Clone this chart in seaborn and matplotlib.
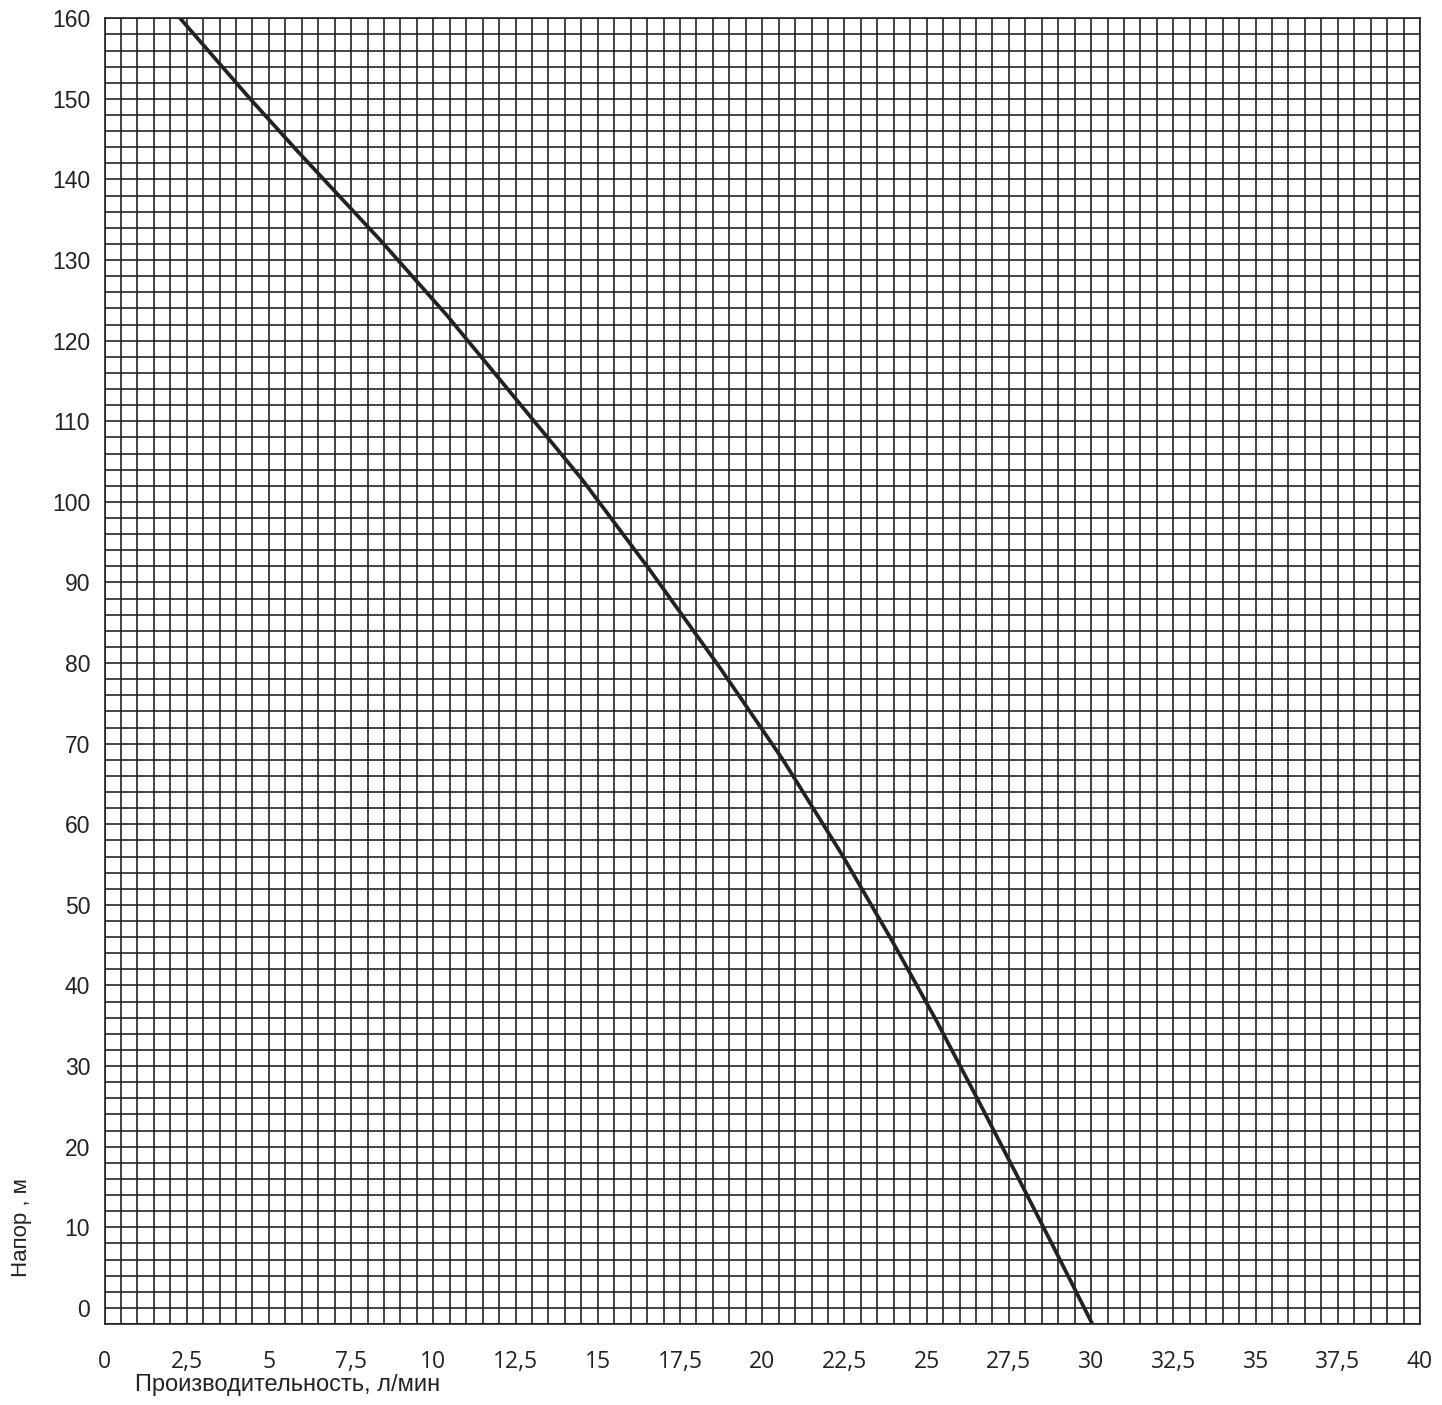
import matplotlib
matplotlib.use("Agg")
import matplotlib.pyplot as plt
import seaborn as sns
import pandas as pd
from matplotlib.ticker import MultipleLocator, FuncFormatter

# pump curve
flow = [2.30, 4.43, 5.85, 8.38, 10.4, 12.28, 14.5, 16.59, 18.7, 20.63, 22.4, 23.94,
        25.3, 26.56, 27.8, 28.90, 30.05]
head = [160, 150, 143.6, 132.5, 123.2, 113.9, 102.9, 91.5, 79.5, 68.0, 56.4, 45.6,
        35.6, 25.8, 16.0, 7.2, -2.1]

x_ticks = [0, 2.5, 5, 7.5, 10, 12.5, 15, 17.5, 20, 22.5, 25, 27.5, 30, 32.5, 35, 37.5, 40]
y_ticks = [0, 10, 20, 30, 40, 50, 60, 70, 80, 90, 100, 110, 120, 130, 140, 150, 160]

df = pd.DataFrame({"flow": flow, "head": head})

sns.set_style("white")
plt.rcParams["font.family"] = ["Liberation Sans", "DejaVu Sans"]

fig = plt.figure(figsize=(14.42, 14.05), dpi=100)
ax = fig.add_axes([104.5 / 1442, 1 - 1324 / 1405, (1420 - 104.5) / 1442, (1324 - 18.3) / 1405])

grid_col = "#1c1c1c"
sns.lineplot(data=df, x="flow", y="head", ax=ax, color="#222222", linewidth=2.7,
             estimator=None, sort=False, zorder=5)

ax.set_xlim(0, 40)
ax.set_ylim(-2, 160)
ax.set_xticks(x_ticks)
ax.xaxis.set_minor_locator(MultipleLocator(0.5))
ax.set_yticks(y_ticks)
ax.yaxis.set_minor_locator(MultipleLocator(2))

fmt = FuncFormatter(lambda v, p: ("%g" % v).replace(".", ","))
ax.xaxis.set_major_formatter(fmt)

ax.grid(True, which="both", color=grid_col, linewidth=1.15)
ax.set_axisbelow(True)
for s in ax.spines.values():
    s.set_color(grid_col)
    s.set_linewidth(1.15)

ax.tick_params(axis="x", which="major", direction="out", length=8.5, width=1.15,
               color=grid_col, pad=10, labelsize=16.5, labelcolor="#222222")
ax.tick_params(axis="y", which="major", direction="out", length=4.3, width=1.15,
               color=grid_col, pad=6, labelsize=16.5, labelcolor="#222222")
ax.tick_params(which="minor", length=0)
for lab in ax.get_xticklabels():
    lab.set_fontfamily(["Open Sans", "DejaVu Sans"])

ax.set_xlabel("")
ax.set_ylabel("")
fig.text(135 / 1442, 1 - 1385 / 1405, "Производительность, л/мин", ha="left", va="center",
         fontsize=17, color="#222222")
fig.text(22 / 1442, 1 - 1228 / 1405, "Напор , м", ha="center", va="center",
         rotation=90, fontsize=16, color="#222222")

fig.savefig("out.png", dpi=100, facecolor="white")
